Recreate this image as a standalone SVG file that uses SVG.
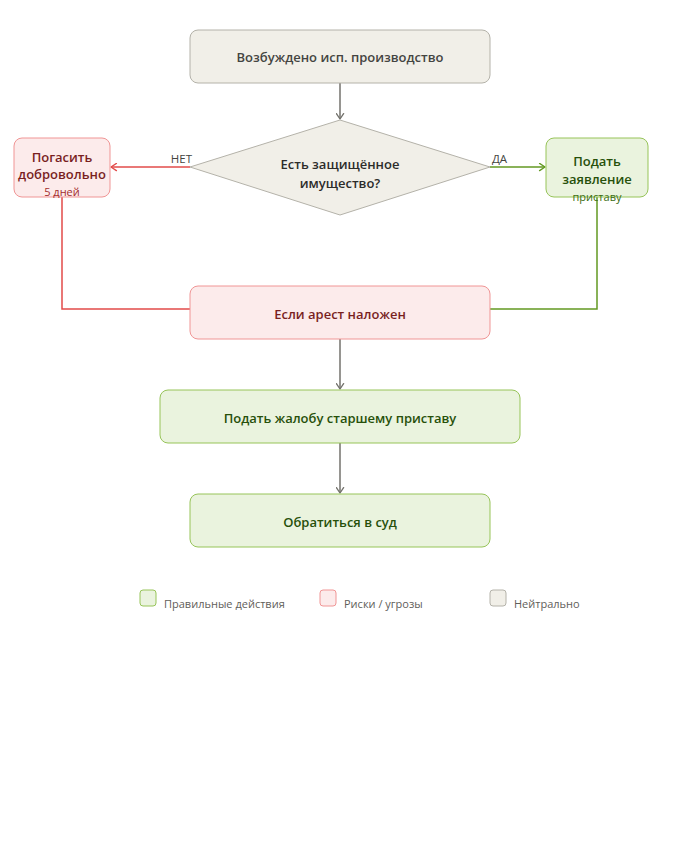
<svg xmlns="http://www.w3.org/2000/svg" width="680" height="860" viewBox="0 0 680 860">
<style>
text{font-family:"Open Sans","Noto Sans","DejaVu Sans",sans-serif;}
.t{font-size:13px;font-weight:600;text-anchor:middle;dominant-baseline:central;}
.s{font-size:11px;font-weight:400;text-anchor:middle;dominant-baseline:central;}
.neu rect,.neu polygon{fill:#F1EFE8;stroke:#B4B2A9;stroke-width:1;}
.neu text{fill:#444441;}
.red rect{fill:#FCEBEB;stroke:#F09595;stroke-width:1;}
.red text{fill:#791F1F;}
.grn rect{fill:#EAF3DE;stroke:#97C459;stroke-width:1;}
.grn text{fill:#27500A;}
.lbl{font-size:11.5px;fill:#444441;dominant-baseline:central;}
.leg{font-size:11px;fill:#5F5E5A;dominant-baseline:central;}
</style>
<defs>
<marker id="ag" viewBox="0 0 10 10" refX="8" refY="5" markerWidth="6" markerHeight="6" orient="auto-start-reverse"><path d="M2 1L8 5L2 9" fill="none" stroke="#73726C" stroke-width="1.5" stroke-linecap="round" stroke-linejoin="round"/></marker>
<marker id="ar" viewBox="0 0 10 10" refX="8" refY="5" markerWidth="6" markerHeight="6" orient="auto-start-reverse"><path d="M2 1L8 5L2 9" fill="none" stroke="#E24B4A" stroke-width="1.5" stroke-linecap="round" stroke-linejoin="round"/></marker>
<marker id="agn" viewBox="0 0 10 10" refX="8" refY="5" markerWidth="6" markerHeight="6" orient="auto-start-reverse"><path d="M2 1L8 5L2 9" fill="none" stroke="#639922" stroke-width="1.5" stroke-linecap="round" stroke-linejoin="round"/></marker>
</defs>
<g id="connectors" fill="none" stroke-width="1.5">
<line x1="340" y1="83" x2="340" y2="119" stroke="#73726C" marker-end="url(#ag)"/>
<line x1="190" y1="167" x2="111" y2="167" stroke="#E24B4A" marker-end="url(#ar)"/>
<line x1="490" y1="167" x2="545" y2="167" stroke="#639922" marker-end="url(#agn)"/>
<polyline points="62,197 62,309 190,309" stroke="#E24B4A"/>
<polyline points="597,197 597,309 490,309" stroke="#639922"/>
<line x1="340" y1="339" x2="340" y2="389" stroke="#73726C" marker-end="url(#ag)"/>
<line x1="340" y1="443" x2="340" y2="493" stroke="#73726C" marker-end="url(#ag)"/>
<text class="lbl" x="192" y="158" text-anchor="end">НЕТ</text>
<text class="lbl" x="492" y="158">ДА</text>
</g>
<g id="start" class="neu">
<rect x="190" y="30" width="300" height="53" rx="8"/>
<text class="t" x="340" y="57">Возбуждено исп. производство</text>
</g>
<g id="decision" class="neu">
<polygon points="340,120 490,167 340,215 190,167"/>
<text class="t" x="340" y="164" style="fill:#2C2C2A">Есть защищённое</text>
<text class="t" x="340" y="183" style="fill:#2C2C2A">имущество?</text>
</g>
<g id="pay" class="red">
<rect x="14" y="138" width="96" height="59" rx="8"/>
<text class="t" x="62" y="157">Погасить</text>
<text class="t" x="62" y="174">добровольно</text>
<text class="s" x="62" y="191" style="fill:#A32D2D">5 дней</text>
</g>
<g id="apply" class="grn">
<rect x="546" y="138" width="102" height="59" rx="8"/>
<text class="t" x="597" y="161">Подать</text>
<text class="t" x="597" y="179">заявление</text>
<text class="s" x="597" y="196" style="fill:#3B6D11">приставу</text>
</g>
<g id="arrest" class="red">
<rect x="190" y="286" width="300" height="53" rx="8"/>
<text class="t" x="340" y="314">Если арест наложен</text>
</g>
<g id="complaint" class="grn">
<rect x="160" y="390" width="360" height="53" rx="8"/>
<text class="t" x="340" y="418">Подать жалобу старшему приставу</text>
</g>
<g id="court" class="grn">
<rect x="190" y="494" width="300" height="53" rx="8"/>
<text class="t" x="340" y="522">Обратиться в суд</text>
</g>
<g id="legend">
<g class="grn"><rect x="140" y="590" width="16" height="16" rx="3"/></g>
<text class="leg" x="164" y="603">Правильные действия</text>
<g class="red"><rect x="320" y="590" width="16" height="16" rx="3"/></g>
<text class="leg" x="344" y="603">Риски / угрозы</text>
<g class="neu"><rect x="490" y="590" width="16" height="16" rx="3"/></g>
<text class="leg" x="514" y="603">Нейтрально</text>
</g>
</svg>
